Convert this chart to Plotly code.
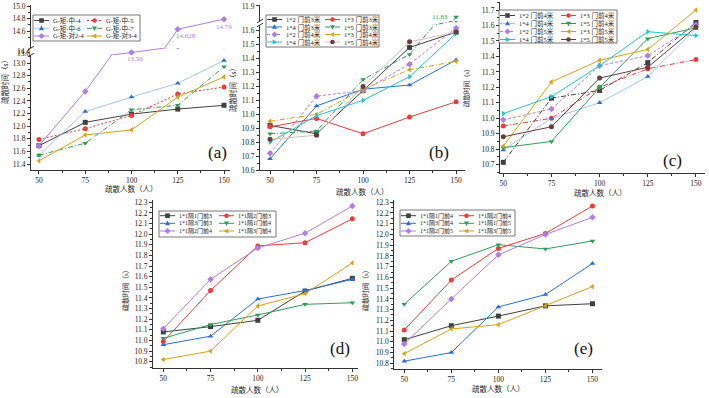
import plotly.graph_objects as go

W, H = 709, 398
X = [50, 75, 100, 125, 150]

# ---------------- data ----------------
a_names = ["G-矩-中-4", "G-矩-中-5", "G-矩-中-6", "G-矩-中-7", "G-矩-对2-4", "G-矩-对3-4"]
a_zhong4 = [11.69, 12.06, 12.19, 12.27, 12.33]
a_zhong5 = [11.79, 11.96, 12.17, 12.51, 12.62]
a_zhong6 = [11.54, 12.23, 12.46, 12.68, 13.04]
a_zhong7 = [11.54, 11.73, 12.26, 12.33, 12.94]
a_dui24 = [11.69, 12.55, 13.56, 14.628, 14.79]
a_dui34 = [11.45, 11.86, 11.94, 12.46, 12.78]

b_names = ["1*2 门前3米", "1*3 门前3米", "1*4 门前3米", "1*5 门前3米",
           "1*2 门前4米", "1*3 门前4米", "1*4 门前4米", "1*5 门前4米"]
b_12_3 = [10.92, 10.86, 11.17, 11.48, 11.59]
b_13_3 = [10.91, 10.97, 10.86, 10.98, 11.09]
b_14_3 = [10.68, 11.06, 11.18, 11.21, 11.39]
b_15_3 = [10.86, 10.88, 11.25, 11.43, 11.83]
b_12_4 = [10.72, 11.13, 11.17, 11.36, 11.62]
b_13_4 = [10.95, 11.00, 11.18, 11.32, 11.38]
b_14_4 = [10.80, 10.99, 11.10, 11.27, 11.58]
b_15_4 = [10.82, 10.85, 11.20, 11.52, 11.59]

c_names = ["1*2 门前4米", "1*3 门前4米", "1*4 门前4米", "1*5 门前4米",
           "1*2 门前5米", "1*3 门前5米", "1*4 门前5米", "1*5 门前5米"]
c_12_4 = [10.715, 11.13, 11.18, 11.36, 11.62]
c_13_4 = [10.95, 11.00, 11.20, 11.32, 11.38]
c_14_4 = [10.795, 11.00, 11.10, 11.27, 11.58]
c_15_4 = [10.81, 10.85, 11.20, 11.515, 11.585]
c_12_5 = [10.99, 11.06, 11.34, 11.405, 11.605]
c_13_5 = [10.82, 11.235, 11.375, 11.445, 11.70]
c_14_5 = [11.03, 11.14, 11.34, 11.56, 11.535]
c_15_5 = [10.88, 10.945, 11.26, 11.33, 11.59]

d_names = ["1*1隔1门前3", "1*1隔2门前3", "1*1隔3门前3", "1*1隔1门前4", "1*1隔2门前4", "1*1隔3门前4"]
d_g1_3 = [11.08, 11.13, 11.19, 11.465, 11.585]
d_g2_3 = [10.99, 11.47, 11.89, 11.92, 12.145]
d_g3_3 = [10.96, 11.04, 11.39, 11.47, 11.575]
d_g1_4 = [11.02, 11.15, 11.24, 11.34, 11.355]
d_g2_4 = [11.11, 11.575, 11.87, 12.01, 12.265]
d_g3_4 = [10.82, 10.90, 11.325, 11.44, 11.73]

e_names = ["1*1隔1门前4", "1*1隔2门前4", "1*1隔3门前4", "1*1隔1门前5", "1*1隔2门前5", "1*1隔3门前5"]
e_g1_4 = [11.02, 11.15, 11.24, 11.335, 11.355]
e_g2_4 = [11.11, 11.575, 11.87, 12.01, 12.265]
e_g3_4 = [10.82, 10.90, 11.325, 11.44, 11.73]
e_g1_5 = [11.35, 11.75, 11.905, 11.865, 11.94]
e_g2_5 = [10.98, 11.40, 11.81, 12.00, 12.16]
e_g3_5 = [10.89, 11.12, 11.16, 11.335, 11.515]

x_title = "疏散人数（人）"
y_title = "疏散时间（s）"
panel_tags = ["(a)", "(b)", "(c)", "(d)", "(e)"]

# ---------------- styles ----------------
SERIF = "Liberation Serif, Noto Sans CJK SC, serif"
AX = "#333333"
BLK = "#404040"; RED = "#ee3b3b"; BLU = "#2b6fdc"; LBL = "#a3c6ef"; GRN = "#2f9e5a"
PUR = "#b07ce8"; ORG = "#d6a21a"; CYN = "#22c5cc"; BRN = "#6e3b3b"; LBR = "#cfbfbf"
DD = "5px,2px,1px,2px"

a_styles = [(BLK, BLK, "square", "solid"), (RED, RED, "circle", "2px,2px"),
            (LBL, BLU, "triangle-up", "solid"), (GRN, GRN, "triangle-down", DD),
            (PUR, PUR, "diamond", "solid"), (ORG, ORG, "triangle-left", "solid")]
b_styles = [(BLK, BLK, "square", "solid"), (RED, RED, "circle", "solid"),
            (BLU, BLU, "triangle-up", "solid"), (GRN, GRN, "triangle-down", DD),
            (PUR, PUR, "diamond", "3px,2px"), (ORG, ORG, "triangle-left", DD),
            (CYN, CYN, "triangle-right", "solid"), (LBR, BRN, "circle", "solid")]
c_styles = [(BLK, BLK, "square", DD), (RED, RED, "circle", DD),
            (LBL, BLU, "triangle-up", "solid"), (GRN, GRN, "triangle-down", "solid"),
            (PUR, PUR, "diamond", "3px,2px"), (ORG, ORG, "triangle-left", "solid"),
            (CYN, CYN, "triangle-right", "solid"), (BRN, BRN, "circle", "solid")]
de_styles = [(BLK, BLK, "square", "solid"), (RED, RED, "circle", "solid"),
             (BLU, BLU, "triangle-up", "solid"), (GRN, GRN, "triangle-down", "solid"),
             (PUR, PUR, "diamond", "solid"), (ORG, ORG, "triangle-left", "solid")]


def fx(p):
    return p / W


def fy(p):
    return 1 - p / H


panels = [
    dict(names=a_names, series=[a_zhong4, a_zhong5, a_zhong6, a_zhong7, a_dui24, a_dui34], styles=a_styles,
         xpx=(31, 230), xr=(45.68, 153.24),
         segs=[dict(px=(170, 55), r=(11.305, 13.127), dtick=0.2, t0=11.4),
               dict(px=(55, 48), r=(13.127, 14.328), mid=True, tv=[13.47, 13.81], tt=["13.6", "14.4"]),
               dict(px=(48, 5), r=(14.328, 15.016), tv=[14.6, 14.8, 15.0], mv=[14.5, 14.7, 14.9])],
         callout_shift=[(3, -7), (8, -7), (0, -8)],
         legend=dict(box=(33, 15, 107, 26), cols=[34, 87], rows=[20.5, 28.3, 36], fs=6.5),
         xt=(131, 189), yt=(5, 80), ytfs=7.5, tag=(217, 152)),
    dict(names=b_names, series=[b_12_3, b_13_3, b_14_3, b_15_3, b_12_4, b_13_4, b_14_4, b_15_4], styles=b_styles,
         xpx=(260, 465), xr=(44.6, 154.8),
         segs=[dict(px=(170, 25), r=(10.6, 11.641), dtick=0.1, t0=10.6),
               dict(px=(25, 21), r=(11.641, 11.8045), mid=True, tv=[], tt=[]),
               dict(px=(21, 5), r=(11.8045, 11.906), tv=[11.9], mv=[])],
         callout_shift=[(-16, 0)],
         legend=dict(box=(266, 15, 113, 32), cols=[267, 325], rows=[19.5, 27, 34.5, 42], fs=6.5),
         xt=(362, 192), yt=(233, 88), ytfs=7.5, tag=(439, 152)),
    dict(names=c_names, series=[c_12_4, c_13_4, c_14_4, c_15_4, c_12_5, c_13_5, c_14_5, c_15_5], styles=c_styles,
         xpx=(500, 705), xr=(48.3, 154.7),
         segs=[dict(px=(173, 2), r=(10.646, 11.752), dtick=0.1, t0=10.7)],
         callout_shift=[],
         legend=dict(box=(499, 10, 118, 33), cols=[500, 561], rows=[15.5, 23.5, 31.5, 39.5], fs=6.5),
         xt=(600, 193), yt=(467, 86), ytfs=6.5, tag=(672, 161)),
    dict(names=d_names, series=[d_g1_3, d_g2_3, d_g3_3, d_g1_4, d_g2_4, d_g3_4], styles=de_styles,
         xpx=(153, 358), xr=(44.55, 153.0),
         segs=[dict(px=(368.3, 200), r=(10.738, 12.322), dtick=0.1, t0=10.8)],
         callout_shift=[],
         legend=dict(box=(159, 211, 117, 26), cols=[160, 219], rows=[215.7, 223.3, 231], fs=6),
         xt=(257, 390), yt=(125, 289), ytfs=7, tag=(340, 348)),
    dict(names=e_names, series=[e_g1_4, e_g2_4, e_g3_4, e_g1_5, e_g2_5, e_g3_5], styles=de_styles,
         xpx=(394.3, 601.7), xr=(44.7, 154.9),
         segs=[dict(px=(369, 200), r=(10.747, 12.321), dtick=0.1, t0=10.8)],
         callout_shift=[],
         legend=dict(box=(400, 210, 115, 26), cols=[401, 459], rows=[215.7, 223.3, 231], fs=6),
         xt=(498, 389), yt=(365, 289), ytfs=7, tag=(583, 348)),
]

fig = go.Figure()
layout = dict(width=W, height=H, margin=dict(l=0, r=0, t=0, b=0),
              paper_bgcolor="white", plot_bgcolor="rgba(0,0,0,0)", showlegend=False,
              font=dict(family=SERIF, size=7.5, color="#222222"))
shapes = []
annotations = []
TICKF = dict(family=SERIF, size=7.5, color="#222222")
minor_x = [(a + b) / 2 for a, b in zip(X, X[1:])]


def marker_shape(cx, cy, sym, color, s=2.3):
    if sym == "square":
        return dict(type="rect", xref="paper", yref="paper", x0=fx(cx - s), x1=fx(cx + s),
                    y0=fy(cy + s), y1=fy(cy - s), fillcolor=color, line=dict(width=0), layer="above")
    if sym == "circle":
        return dict(type="circle", xref="paper", yref="paper", x0=fx(cx - s), x1=fx(cx + s),
                    y0=fy(cy + s), y1=fy(cy - s), fillcolor=color, line=dict(width=0), layer="above")
    pts = {
        "triangle-up": [(0, -1.2), (-1.1, 0.8), (1.1, 0.8)],
        "triangle-down": [(0, 1.2), (-1.1, -0.8), (1.1, -0.8)],
        "triangle-left": [(-1.2, 0), (0.8, -1.1), (0.8, 1.1)],
        "triangle-right": [(1.2, 0), (-0.8, -1.1), (-0.8, 1.1)],
        "diamond": [(0, -1.3), (1.3, 0), (0, 1.3), (-1.3, 0)],
    }[sym]
    path = "M " + " L ".join(f"{fx(cx + dx * s):.5f},{fy(cy + dy * s):.5f}" for dx, dy in pts) + " Z"
    return dict(type="path", xref="paper", yref="paper", path=path, fillcolor=color,
                line=dict(width=0), layer="above")


def paper_text(px, py, text, size, color="#222222", angle=0, xanchor="center"):
    return dict(x=fx(px), y=fy(py), xref="paper", yref="paper", text=text, showarrow=False,
                xanchor=xanchor, yanchor="middle", textangle=angle,
                font=dict(family=SERIF, size=size, color=color))


yidx = 0
for pi, p in enumerate(panels):
    xid = "x" if pi == 0 else f"x{pi + 1}"
    xkey = "xaxis" if pi == 0 else f"xaxis{pi + 1}"
    seg_ids = []
    for s in p["segs"]:
        yidx += 1
        yid = "y" if yidx == 1 else f"y{yidx}"
        ykey = "yaxis" if yidx == 1 else f"yaxis{yidx}"
        seg_ids.append(yid)
        ax = dict(domain=[fy(s["px"][0]), fy(s["px"][1])], range=list(s["r"]), anchor=xid,
                  showgrid=False, zeroline=False, tickfont=TICKF, fixedrange=True, automargin=False)
        if s.get("mid"):
            ax.update(showline=False, ticks="", tickmode="array", tickvals=s["tv"], ticktext=s["tt"])
        else:
            ax.update(showline=True, linecolor=AX, linewidth=1, ticks="outside", ticklen=3,
                      tickcolor=AX, tickwidth=1)
            if "tv" in s:
                ax.update(tickmode="array", tickvals=s["tv"], ticktext=[f"{v:.1f}" for v in s["tv"]],
                          minor=dict(ticks="outside", ticklen=2, tickcolor=AX, tickmode="array",
                                     tickvals=s["mv"]))
            else:
                ax.update(tickmode="linear", tick0=s["t0"], dtick=s["dtick"], tickformat=".1f",
                          minor=dict(ticks="outside", ticklen=2, tickcolor=AX, tick0=s["t0"],
                                     dtick=s["dtick"] / 2))
        layout[ykey] = ax
    layout[xkey] = dict(domain=[fx(p["xpx"][0]), fx(p["xpx"][1])], range=list(p["xr"]), anchor=seg_ids[0],
                        tickmode="array", tickvals=X, ticks="outside", ticklen=3, tickcolor=AX,
                        showline=True, linecolor=AX, linewidth=1, showgrid=False, zeroline=False,
                        tickfont=TICKF, fixedrange=True, automargin=False,
                        minor=dict(ticks="outside", ticklen=2, tickcolor=AX, tickmode="array",
                                   tickvals=minor_x))

    lower_top = p["segs"][0]["r"][1]
    for name, vals, st in zip(p["names"], p["series"], p["styles"]):
        lc, mc, sym, dash = st
        broken = max(vals) > lower_top
        targets = seg_ids if broken else seg_ids[:1]
        for yid in targets:
            fig.add_trace(go.Scatter(x=X, y=vals, xaxis=xid, yaxis=yid, mode="lines+markers", name=name,
                                     line=dict(color=lc, width=1, dash=dash),
                                     marker=dict(symbol=sym, size=5, color=mc, line=dict(width=0)),
                                     cliponaxis=broken, showlegend=False, hoverinfo="skip"))
        if broken:
            k = 0
            for xv, v in zip(X, vals):
                if v > lower_top:
                    for s, yid in zip(p["segs"], seg_ids):
                        if s["r"][0] <= v <= s["r"][1]:
                            dx, dy = p["callout_shift"][k]
                            annotations.append(dict(x=xv, y=v, xref=xid, yref=yid, text=f"{v:g}",
                                                    showarrow=False, xshift=dx, yshift=dy,
                                                    xanchor="center", yanchor="middle",
                                                    font=dict(family=SERIF, size=7, color=lc)))
                            break
                    k += 1

    # axis break marks
    if len(p["segs"]) > 1:
        axx = p["xpx"][0]
        for yb in (p["segs"][1]["px"][0], p["segs"][1]["px"][1]):
            shapes.append(dict(type="line", xref="paper", yref="paper", x0=fx(axx - 3), y0=fy(yb + 1.8),
                               x1=fx(axx + 3), y1=fy(yb - 1.8), line=dict(color=AX, width=1)))

    # legend block
    lg = p["legend"]
    bx, by, bw, bh = lg["box"]
    shapes.append(dict(type="rect", xref="paper", yref="paper", x0=fx(bx), x1=fx(bx + bw),
                       y0=fy(by + bh), y1=fy(by), fillcolor="white", line=dict(color="#555555", width=0.8),
                       layer="above"))
    ncol = len(lg["cols"])
    L = 15
    for i, (name, st) in enumerate(zip(p["names"], p["styles"])):
        lc, mc, sym, dash = st
        r, c = divmod(i, ncol)
        sx, sy = lg["cols"][c], lg["rows"][r]
        shapes.append(dict(type="line", xref="paper", yref="paper", x0=fx(sx), x1=fx(sx + L),
                           y0=fy(sy), y1=fy(sy), line=dict(color=lc, width=1, dash=dash), layer="above"))
        shapes.append(marker_shape(sx + L / 2, sy, sym, mc))
        annotations.append(paper_text(sx + L + 2, sy, name, lg["fs"], xanchor="left"))

    # titles and tags
    annotations.append(paper_text(p["xt"][0], p["xt"][1], x_title, 7.5))
    annotations.append(paper_text(p["yt"][0], p["yt"][1], y_title, p["ytfs"], angle=-90))
    annotations.append(paper_text(p["tag"][0], p["tag"][1], panel_tags[pi], 17, color="#111111"))

layout["shapes"] = shapes
layout["annotations"] = annotations
fig.update_layout(**layout)
fig.write_html("out.html", config={"displayModeBar": False, "staticPlot": True},
               post_script="document.body.style.margin='0';document.body.style.padding='0';"
                           "document.body.style.overflow='hidden';")
